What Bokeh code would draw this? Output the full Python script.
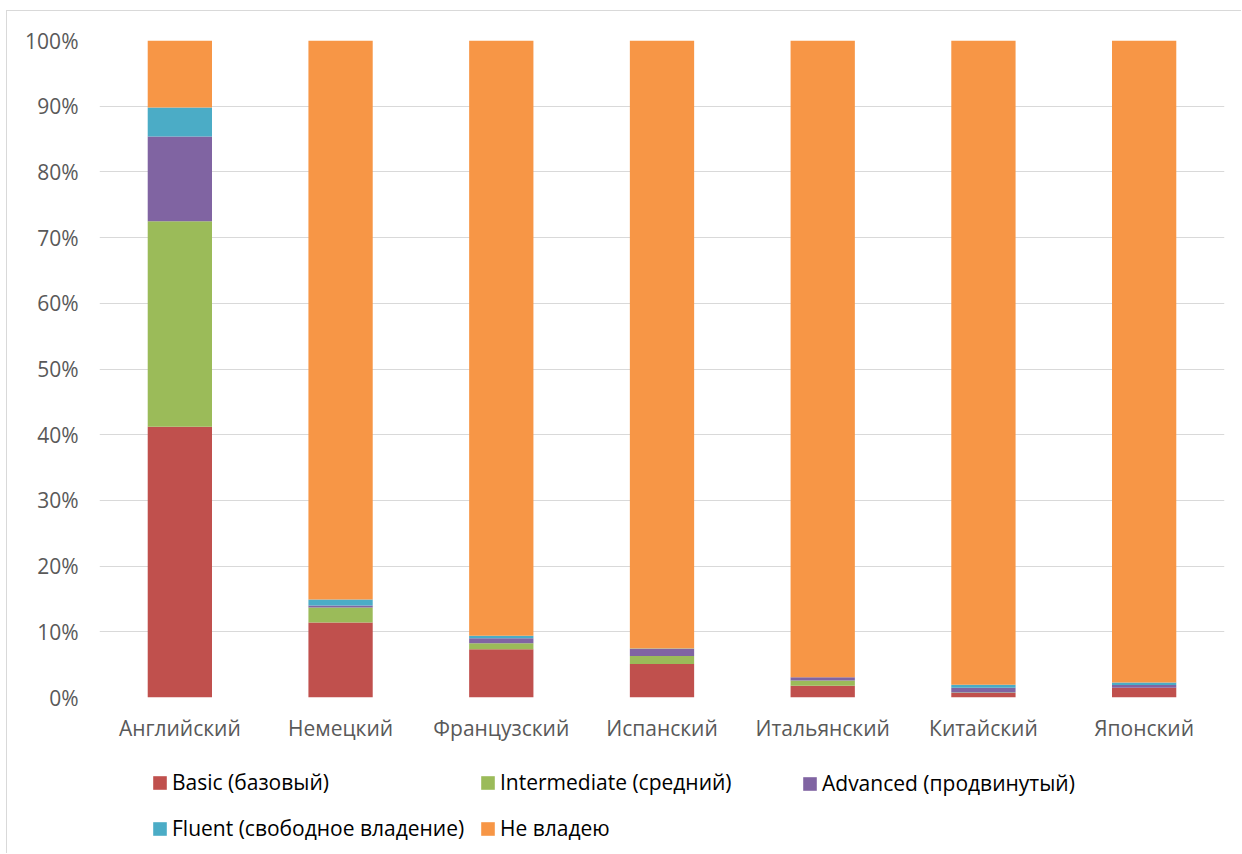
from bokeh.plotting import figure
from bokeh.layouts import column
from bokeh.models import FactorRange, Range1d, FixedTicker, NumeralTickFormatter, Legend, LegendItem, ColumnDataSource
from bokeh.embed import file_html
from bokeh.resources import INLINE

languages = ["Английский", "Немецкий", "Французский", "Испанский", "Итальянский", "Китайский", "Японский"]
basic = [41.2, 11.4, 7.35, 5.1, 1.8, 0.7, 1.5]
intermediate = [31.3, 2.3, 0.9, 1.2, 0.8, 0.05, 0.0]
advanced = [12.9, 0.3, 0.75, 1.1, 0.5, 0.75, 0.4]
fluent = [4.4, 0.9, 0.4, 0.05, 0.0, 0.45, 0.4]
none_ = [10.2, 85.1, 90.6, 92.55, 96.9, 98.05, 97.7]

series = ["basic", "intermediate", "advanced", "fluent", "none"]
labels = ["Basic (базовый)", "Intermediate (средний)", "Advanced (продвинутый)",
          "Fluent (свободное владение)", "Не владею"]
colors = ["#C0504D", "#9BBB59", "#8064A2", "#4BACC6", "#F79646"]
yticks = [0, 0.1, 0.2, 0.3, 0.4, 0.5, 0.6, 0.7, 0.8, 0.9, 1.0]

data = {"lang": languages}
for name, vals in zip(series, [basic, intermediate, advanced, fluent, none_]):
    data[name] = [v / 100 for v in vals]
src = ColumnDataSource(data)

FONT = "Open Sans"

# main chart
p = figure(x_range=FactorRange(*languages), y_range=Range1d(0, 1),
           width=1234, height=742, output_backend="svg", toolbar_location=None,
           min_border_left=92, min_border_top=29, min_border_right=17, min_border_bottom=56)
p.frame_width = 1125
p.frame_height = 657

p.vbar_stack(series, x="lang", width=0.4, source=src, color=colors, line_color=None)

p.outline_line_color = None
p.xgrid.grid_line_color = None
p.ygrid.grid_line_color = "#d9d9d9"
p.ygrid.grid_line_width = 1
p.yaxis.ticker = FixedTicker(ticks=yticks)
p.yaxis.formatter = NumeralTickFormatter(format="0%")
for ax in (p.xaxis, p.yaxis):
    ax.axis_line_color = None
    ax.major_tick_line_color = None
    ax.minor_tick_line_color = None
    ax.major_label_text_font = FONT
    ax.major_label_text_font_size = "21px"
    ax.major_label_text_color = "#595959"
p.yaxis.major_label_standoff = 15
p.xaxis.major_label_standoff = 10

# legend strip (legend swatches use zero-size proxy bars, nothing visible is drawn)
q = figure(width=1234, height=100, output_backend="svg", toolbar_location=None,
           x_range=Range1d(0, 1), y_range=Range1d(0, 1),
           min_border_left=0, min_border_right=0, min_border_top=0, min_border_bottom=0)
q.axis.visible = False
q.grid.visible = False
q.outline_line_color = None
swatches = [q.vbar(x=[0.5], top=[0], bottom=[0], width=0, color=c, line_color=None) for c in colors]

cols = [[0, 3], [1, 4], [2]]
xs = [52, 380, 702]
for col, x in zip(cols, xs):
    items = [LegendItem(label=labels[i], renderers=[swatches[i]]) for i in col]
    nrows = len(col)
    leg = Legend(items=items, orientation="vertical", location=(x, 11 if nrows == 2 else 56),
                 padding=0, margin=0, spacing=18, glyph_width=17, glyph_height=17,
                 label_height=20, label_standoff=4, border_line_color=None,
                 background_fill_alpha=0, label_text_font=FONT, label_text_font_size="21px",
                 label_text_color="#000000", label_text_baseline="middle")
    q.add_layout(leg, "center")

layout = column(p, q, spacing=0,
                styles={"border-top": "1px solid #d9d9d9", "border-left": "1px solid #d9d9d9",
                        "margin-top": "10px", "margin-left": "6px"})

open("out.html", "w").write(file_html(layout, INLINE))
